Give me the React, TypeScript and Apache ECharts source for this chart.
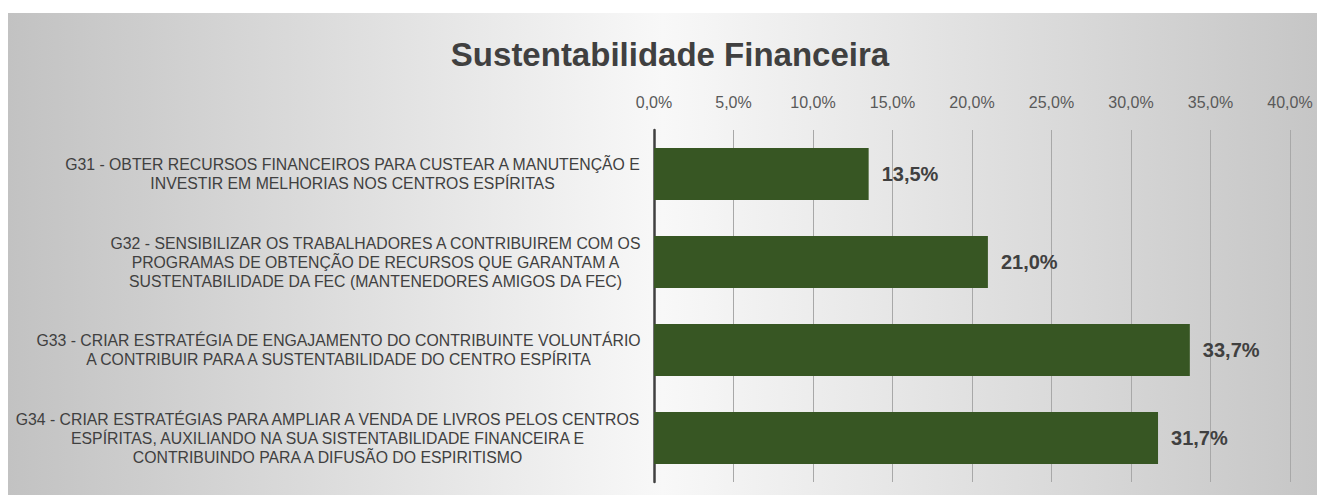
import React, { useEffect, useRef } from "react";
import * as echarts from "echarts";

const titleText = "Sustentabilidade Financeira";
const categories = [
  "G31 - OBTER RECURSOS FINANCEIROS PARA CUSTEAR A MANUTENÇÃO E\nINVESTIR EM MELHORIAS NOS CENTROS ESPÍRITAS",
  "G32 - SENSIBILIZAR OS TRABALHADORES A CONTRIBUIREM COM OS\nPROGRAMAS DE OBTENÇÃO DE RECURSOS QUE GARANTAM A\nSUSTENTABILIDADE DA FEC (MANTENEDORES AMIGOS DA FEC)",
  "G33 - CRIAR ESTRATÉGIA DE ENGAJAMENTO DO CONTRIBUINTE VOLUNTÁRIO\nA CONTRIBUIR PARA A SUSTENTABILIDADE DO CENTRO ESPÍRITA",
  "G34 - CRIAR ESTRATÉGIAS PARA AMPLIAR A VENDA DE LIVROS PELOS CENTROS\nESPÍRITAS, AUXILIANDO NA SUA SISTENTABILIDADE FINANCEIRA E\nCONTRIBUINDO PARA A DIFUSÃO DO ESPIRITISMO",
];
const values = [13.5, 21.0, 33.7, 31.7];
const axisMin = 0;
const axisMax = 40;
const axisStep = 5;

const catFont = "Liberation Sans";
const catSize = 15.8;

function fmtPct(v: number) {
  return v.toFixed(1).replace(".", ",") + "%";
}

export default function App() {
  const ref = useRef<HTMLDivElement>(null);
  useEffect(() => {
    if (!ref.current) return;
    const chart = echarts.init(ref.current, undefined, { renderer: "svg" });
    const canvas = document.createElement("canvas");
    const ctx = canvas.getContext("2d")!;
    ctx.font = `${catSize}px "${catFont}"`;
    const rich: Record<string, any> = {};
    categories.forEach((c, i) => {
      const w = Math.max(...c.split("\n").map((l) => ctx.measureText(l).width));
      rich["c" + i] = {
        width: Math.ceil(w) + 1,
        align: "center",
        fontSize: catSize,
        fontFamily: catFont,
        lineHeight: 19,
        color: "#404040",
      };
    });
    chart.setOption({
      animation: false,
      backgroundColor: {
        type: "linear",
        x: 0,
        y: 0,
        x2: 1,
        y2: 0,
        colorStops: [
          { offset: 0, color: "#c2c2c2" },
          { offset: 0.5, color: "#f8f8f8" },
          { offset: 1, color: "#c6c6c6" },
        ],
      },
      title: {
        text: titleText,
        left: 657,
        textAlign: "center",
        top: 20,
        textStyle: {
          fontFamily: "Liberation Sans",
          fontWeight: "bold",
          fontSize: 33,
          color: "#404040",
        },
      },
      grid: {
        left: 646,
        right: 27,
        top: 117,
        bottom: 13,
        containLabel: false,
        outerBoundsMode: "none",
      },
      xAxis: {
        type: "value",
        position: "top",
        min: axisMin,
        max: axisMax,
        interval: axisStep,
        axisLine: { show: false },
        axisTick: { show: false },
        axisLabel: {
          margin: 20,
          fontFamily: "Liberation Sans",
          fontSize: 16,
          color: "#595959",
          formatter: (v: number) => fmtPct(v),
        },
        splitLine: { show: true, lineStyle: { color: "#a8a8a8", width: 1 } },
      },
      yAxis: {
        type: "category",
        inverse: true,
        data: categories,
        axisLine: { show: true, lineStyle: { color: "#404040", width: 2.5 } },
        axisTick: { show: false },
        axisLabel: {
          margin: 12,
          align: "right",
          rich,
          formatter: (v: string, idx: number) =>
            v
              .split("\n")
              .map((l) => `{c${idx}|${l}}`)
              .join("\n"),
        },
      },
      series: [
        {
          type: "bar",
          data: values,
          barWidth: 52,
          itemStyle: { color: "#375623" },
          label: {
            show: true,
            position: "right",
            distance: 13,
            fontFamily: "Liberation Sans",
            fontWeight: "bold",
            fontSize: 20,
            color: "#404040",
            formatter: (p: any) => fmtPct(p.value),
          },
        },
      ],
    });
    return () => chart.dispose();
  }, []);
  return (
    <div
      ref={ref}
      style={{ position: "absolute", left: 8, top: 13, width: 1309, height: 482 }}
    />
  );
}
